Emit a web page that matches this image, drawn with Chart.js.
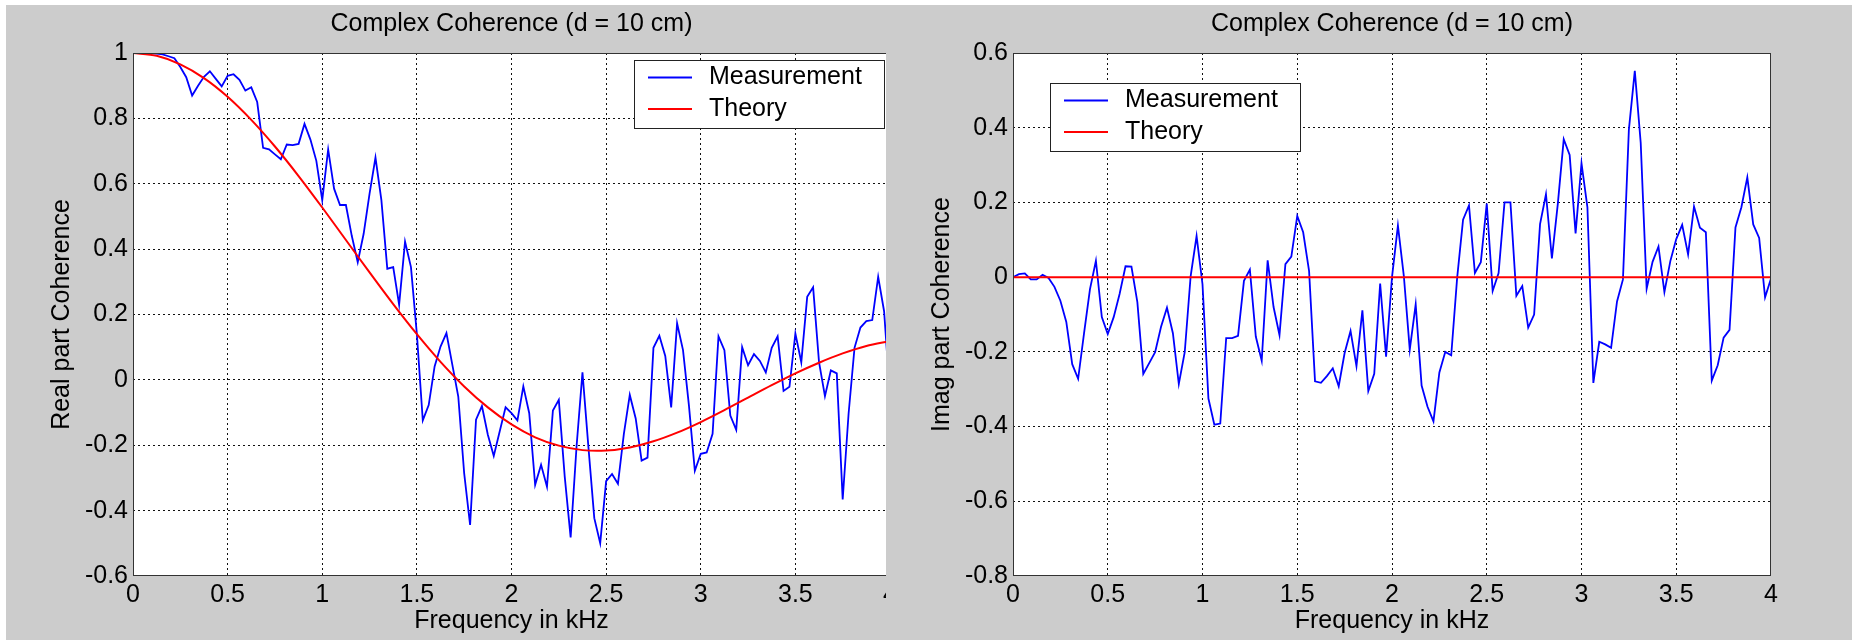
<!DOCTYPE html>
<html>
<head>
<meta charset="utf-8">
<title>Complex Coherence (d = 10 cm)</title>
<script src="https://cdn.jsdelivr.net/npm/chart.js@4.4.1/dist/chart.umd.min.js"></script>
<style>
  html, body { margin: 0; padding: 0; background: #fff; }
  body { width: 1852px; height: 643px; position: relative; overflow: hidden; }
  #bg { position: absolute; left: 6px; top: 5px; width: 1846px; height: 635px; background: #cccccc; }
  #left { position: absolute; left: 0; top: 0; width: 886px; height: 643px; overflow: hidden; }
  #right { position: absolute; left: 886px; top: 0; width: 966px; height: 643px; }
  canvas { display: block; }
</style>
</head>
<body>
<div id="bg"></div>
<div id="left"><canvas id="realChart" width="930" height="643"></canvas></div>
<div id="right"><canvas id="imagChart" width="966" height="643"></canvas></div>
<script>
// frequency bins (kHz), 31.25 Hz apart
const freqKHz = [
  0, 0.03125, 0.0625, 0.09375, 0.125, 0.15625, 0.1875, 0.21875, 0.25, 0.28125, 0.3125, 0.34375, 0.375, 0.40625, 0.4375, 0.46875,
  0.5, 0.53125, 0.5625, 0.59375, 0.625, 0.65625, 0.6875, 0.71875, 0.75, 0.78125, 0.8125, 0.84375, 0.875, 0.90625, 0.9375, 0.96875,
  1, 1.03125, 1.0625, 1.09375, 1.125, 1.15625, 1.1875, 1.21875, 1.25, 1.28125, 1.3125, 1.34375, 1.375, 1.40625, 1.4375, 1.46875,
  1.5, 1.53125, 1.5625, 1.59375, 1.625, 1.65625, 1.6875, 1.71875, 1.75, 1.78125, 1.8125, 1.84375, 1.875, 1.90625, 1.9375, 1.96875,
  2, 2.03125, 2.0625, 2.09375, 2.125, 2.15625, 2.1875, 2.21875, 2.25, 2.28125, 2.3125, 2.34375, 2.375, 2.40625, 2.4375, 2.46875,
  2.5, 2.53125, 2.5625, 2.59375, 2.625, 2.65625, 2.6875, 2.71875, 2.75, 2.78125, 2.8125, 2.84375, 2.875, 2.90625, 2.9375, 2.96875,
  3, 3.03125, 3.0625, 3.09375, 3.125, 3.15625, 3.1875, 3.21875, 3.25, 3.28125, 3.3125, 3.34375, 3.375, 3.40625, 3.4375, 3.46875,
  3.5, 3.53125, 3.5625, 3.59375, 3.625, 3.65625, 3.6875, 3.71875, 3.75, 3.78125, 3.8125, 3.84375, 3.875, 3.90625, 3.9375, 3.96875,
  4
];

const realMeasured = [
  1.0, 1.0, 1.0, 0.999, 0.998, 0.996, 0.99, 0.984, 0.957, 0.926, 0.87, 0.90, 0.927, 0.944, 0.921, 0.898,
  0.93, 0.935, 0.918, 0.885, 0.895, 0.85, 0.71, 0.705, 0.69, 0.675, 0.72, 0.718, 0.722, 0.783, 0.735, 0.67,
  0.55, 0.705, 0.585, 0.535, 0.535, 0.44, 0.36, 0.447, 0.57, 0.68, 0.55, 0.34, 0.345, 0.23, 0.423, 0.345,
  0.14, -0.124, -0.077, 0.041, 0.102, 0.143, 0.046, -0.051, -0.286, -0.444, -0.122, -0.08, -0.168, -0.233, -0.158, -0.084,
  -0.102, -0.124, -0.02, -0.102, -0.321, -0.26, -0.327, -0.094, -0.061, -0.296, -0.482, -0.204, 0.023, -0.204, -0.423, -0.5,
  -0.31, -0.288, -0.318, -0.165, -0.046, -0.118, -0.247, -0.238, 0.098, 0.135, 0.073, -0.084, 0.173, 0.091, -0.078, -0.278,
  -0.226, -0.222, -0.165, 0.133, 0.091, -0.109, -0.153, 0.1, 0.045, 0.079, 0.058, 0.023, 0.098, 0.133, -0.034, -0.021,
  0.142, 0.054, 0.254, 0.283, 0.054, -0.05, 0.029, 0.02, -0.366, -0.103, 0.098, 0.16, 0.18, 0.183, 0.315, 0.21,
  -0.05
];

const imagMeasured = [
  0, 0.008, 0.01, -0.006, -0.006, 0.006, -0.002, -0.026, -0.063, -0.12, -0.233, -0.272, -0.15, -0.032, 0.044, -0.107,
  -0.152, -0.107, -0.045, 0.029, 0.028, -0.067, -0.259, -0.23, -0.201, -0.133, -0.082, -0.15, -0.286, -0.201, 0.003, 0.11,
  -0.019, -0.325, -0.395, -0.392, -0.163, -0.163, -0.157, -0.01, 0.02, -0.159, -0.224, 0.045, -0.08, -0.155, 0.035, 0.055,
  0.164, 0.12, 0.016, -0.279, -0.283, -0.265, -0.244, -0.292, -0.203, -0.144, -0.238, -0.089, -0.305, -0.259, -0.017, -0.213,
  0.0, 0.138, 0.003, -0.194, -0.073, -0.29, -0.347, -0.386, -0.255, -0.2, -0.209, -0.002, 0.154, 0.192, 0.011, 0.04,
  0.197, -0.037, 0.011, 0.2, 0.2, -0.05, -0.024, -0.135, -0.1, 0.142, 0.222, 0.05, 0.196, 0.369, 0.327, 0.117,
  0.305, 0.187, -0.283, -0.173, -0.18, -0.189, -0.065, -0.006, 0.395, 0.552, 0.359, -0.031, 0.041, 0.082, -0.04, 0.043,
  0.102, 0.14, 0.061, 0.189, 0.132, 0.12, -0.277, -0.236, -0.162, -0.141, 0.133, 0.187, 0.267, 0.141, 0.105, -0.054,
  -0.004
];

const theoryFreqKHz = [
  0, 0.125, 0.25, 0.375, 0.5, 0.625, 0.75, 0.875, 1, 1.125, 1.25, 1.375, 1.5, 1.625, 1.75, 1.875,
  2, 2.125, 2.25, 2.375, 2.5, 2.625, 2.75, 2.875, 3, 3.125, 3.25, 3.375, 3.5, 3.625, 3.75, 3.875, 4
];
const realTheory = [
  1, 0.9913, 0.9653, 0.9233, 0.8661, 0.7954, 0.7139, 0.6236, 0.5273, 0.428, 0.3287, 0.2317, 0.1397, 0.0551, -0.02, -0.0841,
  -0.1363, -0.1757, -0.2012, -0.2149, -0.2164, -0.2069, -0.188, -0.1615, -0.129, -0.0926, -0.0543, -0.0163, 0.0199, 0.0525, 0.0809, 0.1037, 0.1184
];
const imagTheoryFreqKHz = [0, 4];
const imagTheory = [0, 0];

const xTicks = [0, 0.5, 1, 1.5, 2, 2.5, 3, 3.5, 4];
const realYTicks = [-0.6, -0.4, -0.2, 0, 0.2, 0.4, 0.6, 0.8, 1];
const imagYTicks = [-0.8, -0.6, -0.4, -0.2, 0, 0.2, 0.4, 0.6];

const FONT = '"Liberation Sans", Arial, Helvetica, sans-serif';
Chart.defaults.font.family = FONT;
Chart.defaults.font.size = 25;
Chart.defaults.color = '#000';

// white axes box, black frame and a MATLAB style legend box
const axesBox = {
  id: 'axesBox',
  beforeDraw(chart) {
    const a = chart.chartArea, ctx = chart.ctx;
    ctx.save();
    ctx.fillStyle = '#fff';
    ctx.fillRect(a.left, a.top, a.right - a.left, a.bottom - a.top);
    ctx.restore();
  },
  afterDraw(chart, args, opts) {
    const a = chart.chartArea, ctx = chart.ctx;
    ctx.save();
    ctx.strokeStyle = '#333';
    ctx.lineWidth = 1;
    ctx.strokeRect(Math.round(a.left) + 0.5, Math.round(a.top) + 0.5,
      Math.round(a.right - a.left) - 1, Math.round(a.bottom - a.top) - 1);

    const x = Math.round(a.left + opts.dx), y = Math.round(a.top + opts.dy);
    ctx.fillStyle = '#fff';
    ctx.fillRect(x, y, 250, 68);
    ctx.strokeStyle = '#222';
    ctx.strokeRect(x + 0.5, y + 0.5, 250, 68);
    ctx.font = '25px ' + FONT;
    ctx.textBaseline = 'middle';
    ctx.textAlign = 'left';
    chart.data.datasets.forEach((ds, i) => {
      const ly = y + 17.5 + i * 31.5;
      ctx.strokeStyle = ds.borderColor;
      ctx.lineWidth = ds.borderWidth;
      ctx.beginPath();
      ctx.moveTo(x + 14, ly);
      ctx.lineTo(x + 58, ly);
      ctx.stroke();
      ctx.fillStyle = '#000';
      ctx.fillText(ds.label, x + 75, ly);
    });
    ctx.restore();
  }
};

function gridColor(ticks) {
  return c => (c.tick && (c.tick.value === ticks[0] || c.tick.value === ticks[ticks.length - 1])) ? 'rgba(0,0,0,0)' : '#111';
}

function makeChart(id, meas, thX, thY, yTicks, yTitle, o) {
  new Chart(document.getElementById(id), {
    type: 'line',
    data: {
      labels: freqKHz,
      datasets: [
        { label: 'Measurement', data: meas, borderColor: '#0000ff', borderWidth: 1.8,
          pointRadius: 0, tension: 0, fill: false, order: 1 },
        { label: 'Theory', data: thX.map((f, i) => ({ x: f, y: thY[i] })), borderColor: '#ff0000',
          borderWidth: 2, pointRadius: 0, tension: 0.3, fill: false, order: 0 }
      ]
    },
    options: {
      responsive: false,
      animation: false,
      events: [],
      layout: { padding: { left: 0, top: 0, right: o.padRight, bottom: 0 } },
      plugins: {
        legend: { display: false },
        tooltip: { enabled: false },
        title: {
          display: true, text: 'Complex Coherence (d = 10 cm)', fullSize: false,
          font: { size: 25, weight: 'normal' }, color: '#000',
          padding: { top: 9, bottom: 14 }
        },
        axesBox: { dx: o.legendDx, dy: o.legendDy }
      },
      scales: {
        x: {
          type: 'linear', min: 0, max: 4,
          afterBuildTicks: s => { s.ticks = xTicks.map(v => ({ value: v })); },
          afterFit: s => { s.height = 67; },
          ticks: { padding: 4, autoSkip: false, maxRotation: 0, callback: v => String(v) },
          grid: { drawTicks: false, color: gridColor(xTicks), lineWidth: 1 },
          border: { display: false, dash: [2, 3] },
          title: { display: true, text: 'Frequency in kHz', font: { size: 25 }, padding: { top: 0, bottom: 7 } }
        },
        y: {
          min: yTicks[0], max: yTicks[yTicks.length - 1],
          afterBuildTicks: s => { s.ticks = yTicks.map(v => ({ value: v })); },
          afterFit: s => { s.width = o.yWidth; },
          ticks: { padding: 5, autoSkip: false, callback: v => String(Math.round(v * 10) / 10) },
          grid: { drawTicks: false, color: gridColor(yTicks), lineWidth: 1 },
          border: { display: false, dash: [2, 3] },
          title: { display: true, text: yTitle, font: { size: 25 }, padding: { top: o.yTitlePad, bottom: 0 } }
        }
      }
    },
    plugins: [axesBox]
  });
}

makeChart('realChart', realMeasured, theoryFreqKHz, realTheory, realYTicks, 'Real part Coherence',
  { padRight: 40, yWidth: 133, yTitlePad: 47, legendDx: 501, legendDy: 7 });
makeChart('imagChart', imagMeasured, imagTheoryFreqKHz, imagTheory, imagYTicks, 'Imag part Coherence',
  { padRight: 81, yWidth: 127, yTitlePad: 41.5, legendDx: 37, legendDy: 30 });
</script>
</body>
</html>
